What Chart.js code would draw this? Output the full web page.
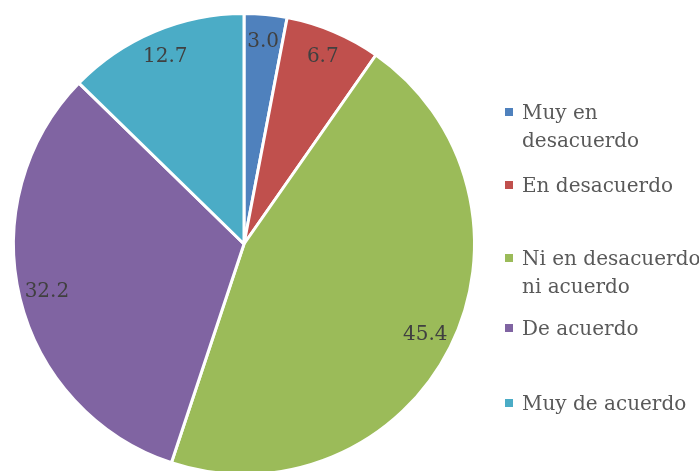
<!DOCTYPE html>
<html>
<head>
<meta charset="utf-8">
<script src="https://cdn.jsdelivr.net/npm/chart.js@4"></script>
<style>
  html, body { margin: 0; padding: 0; background: #fff; }
  #frame { position: relative; width: 699px; height: 471px; overflow: hidden; }
  #pieBox { position: absolute; left: 0; top: 0; width: 488px; height: 488px; }
  #legend { position: absolute; left: 0; top: 0; width: 699px; height: 471px; pointer-events: none;
            font-family: "DejaVu Serif", serif; font-size: 20px; color: #595959; }
  .item { position: absolute; left: 505px; line-height: 28px; white-space: nowrap; }
  .item i { position: absolute; left: 0; top: 10px; width: 8px; height: 8px; }
  .item span { display: block; margin-left: 17px; }
</style>
</head>
<body>
<div id="frame">
  <div id="pieBox"><canvas id="pie"></canvas></div>
  <div id="legend"></div>
</div>
<script>
// answers (%)
const categories = ['Muy en desacuerdo', 'En desacuerdo', 'Ni en desacuerdo ni acuerdo', 'De acuerdo', 'Muy de acuerdo'];
const legendLines = [['Muy en', 'desacuerdo'], ['En desacuerdo'], ['Ni en desacuerdo', 'ni acuerdo'], ['De acuerdo'], ['Muy de acuerdo']];
const values = [3.0, 6.7, 45.4, 32.2, 12.7];
const colors = ['#4F81BD', '#C0504D', '#9BBB59', '#8064A2', '#4BACC6'];
const legendTops = [98, 171, 244, 314, 389];

// writes each slice's value near the rim
const sliceLabels = {
  id: 'sliceLabels',
  afterDatasetsDraw(chart) {
    const ctx = chart.ctx;
    const data = chart.data.datasets[0].data;
    ctx.save();
    ctx.font = '20px "DejaVu Serif", serif';
    ctx.fillStyle = '#404040';
    ctx.textAlign = 'center';
    ctx.textBaseline = 'middle';
    chart.getDatasetMeta(0).data.forEach((arc, i) => {
      const p = arc.getProps(['x', 'y', 'startAngle', 'endAngle', 'outerRadius'], true);
      const a = (p.startAngle + p.endAngle) / 2;
      const r = p.outerRadius * 0.88;
      ctx.fillText(data[i].toFixed(1), p.x + Math.cos(a) * r, p.y + Math.sin(a) * r);
    });
    ctx.restore();
  }
};

new Chart(document.getElementById('pie'), {
  type: 'pie',
  data: {
    labels: categories,
    datasets: [{
      data: values,
      backgroundColor: colors,
      borderColor: '#ffffff',
      borderWidth: 3
    }]
  },
  options: {
    responsive: true,
    maintainAspectRatio: false,
    animation: false,
    layout: { padding: 12 },
    plugins: {
      legend: { display: false },
      tooltip: { enabled: false }
    }
  },
  plugins: [sliceLabels]
});

const legend = document.getElementById('legend');
legendLines.forEach((lines, i) => {
  const item = document.createElement('div');
  item.className = 'item';
  item.style.top = legendTops[i] + 'px';
  const box = document.createElement('i');
  box.style.background = colors[i];
  item.appendChild(box);
  lines.forEach(t => {
    const s = document.createElement('span');
    s.textContent = t;
    item.appendChild(s);
  });
  legend.appendChild(item);
});
</script>
</body>
</html>
